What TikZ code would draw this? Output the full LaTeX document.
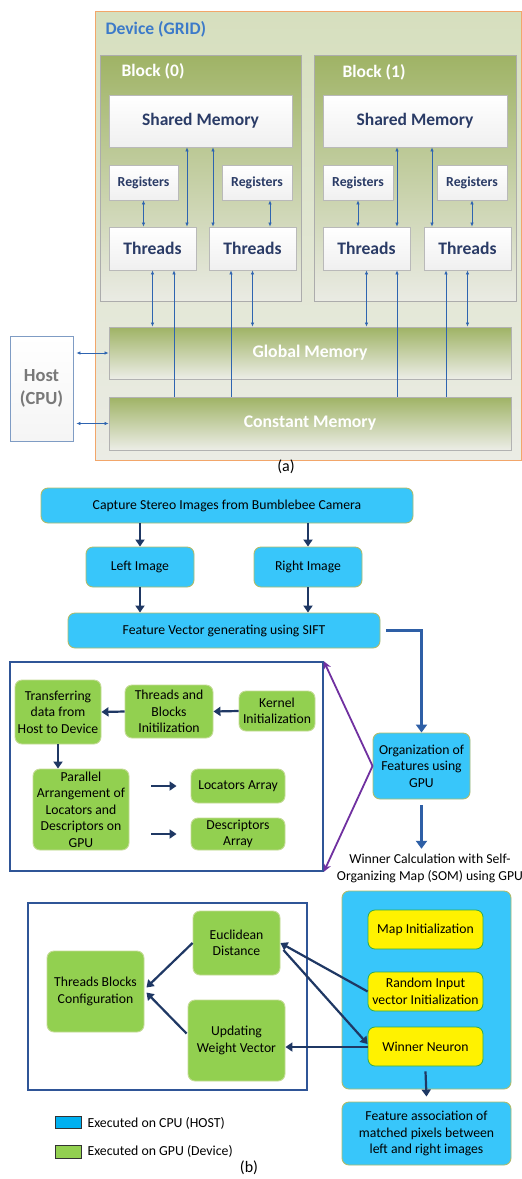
\documentclass[tikz,border=0pt]{standalone}
\usepackage{fontspec}
\setmainfont{Carlito}
\usetikzlibrary{arrows.meta,shadows}
\definecolor{devborder}{HTML}{F2A66A}
\definecolor{devtop}{HTML}{D6DFBE}
\definecolor{devbot}{HTML}{EBECE5}
\definecolor{olivetop}{HTML}{9FB365}
\definecolor{olivemid}{HTML}{CED8B4}
\definecolor{olivebot}{HTML}{EAEBE4}
\definecolor{devtitle}{HTML}{3C7AC9}
\definecolor{navytext}{HTML}{2A3B66}
\definecolor{thinblue}{HTML}{2E64B0}
\definecolor{hostborder}{HTML}{7F9CC4}
\definecolor{cyanF}{HTML}{38C6FA}
\definecolor{oliveB}{HTML}{AEBB6C}
\definecolor{greenF}{HTML}{92D050}
\definecolor{greenB}{HTML}{C4DB96}
\definecolor{yelB}{HTML}{2EAA50}
\definecolor{navyA}{HTML}{1F3864}
\definecolor{blueA}{HTML}{2E5FA6}
\definecolor{frameB}{HTML}{2F5597}
\definecolor{purpA}{HTML}{7030A0}
\definecolor{legcyan}{HTML}{00B0F0}
\tikzset{
  sz/.style n args={2}{minimum width=#1pt,minimum height=#2pt},
  devbox/.style={draw=devborder,line width=0.9pt,top color=devtop,bottom color=devbot,inner sep=0pt},
  blkbox/.style={draw=gray!65,line width=0.8pt,top color=olivetop,middle color=olivemid,bottom color=olivebot,inner sep=0pt},
  wbox/.style={draw=gray!55,line width=0.8pt,top color=white,bottom color=gray!12,drop shadow={shadow xshift=1.2pt,shadow yshift=-1.2pt,opacity=0.35},text=navytext,font=\bfseries,inner sep=0pt,align=center},
  membox/.style={draw=gray!60,line width=0.8pt,top color=olivetop,bottom color=olivebot!90!white,drop shadow={shadow xshift=1.2pt,shadow yshift=-1.2pt,opacity=0.35},text=white,font=\fontsize{17.7}{20}\selectfont\bfseries,inner sep=0pt},
  aarr/.style={draw=thinblue,line width=0.7pt,{Latex[length=4pt,width=3.5pt]}-{Latex[length=4pt,width=3.5pt]}},
  uarr/.style={draw=thinblue,line width=0.7pt,-{Latex[length=4pt,width=3.5pt]}},
  bfont/.style={font=\fontsize{13.7}{16.5}\selectfont},
  cbox/.style={rounded corners=7pt,fill=cyanF,draw=oliveB,line width=0.9pt,inner sep=0pt,align=center,bfont},
  gbox/.style={rounded corners=7pt,fill=greenF,draw=greenB,line width=0.9pt,inner sep=0pt,align=center,bfont},
  ybox/.style={rounded corners=7pt,fill=yellow,draw=yelB,line width=0.8pt,inner sep=0pt,align=center,bfont},
  frame/.style={draw=frameB,line width=1.6pt,inner sep=0pt},
  narr/.style={draw=navyA,line width=2.2pt,-{Triangle[length=7pt,width=9pt]}},
  barr/.style={draw=blueA,line width=2.6pt,-{Triangle[length=8pt,width=11pt]}},
  parr/.style={draw=purpA,line width=1.8pt,-{Stealth[length=8pt,width=8pt]}},
  smf/.style={font=\fontsize{17.5}{20}\selectfont\bfseries},
  rgf/.style={font=\fontsize{13.8}{16}\selectfont\bfseries},
  thf/.style={font=\fontsize{17.6}{20}\selectfont\bfseries},
  blf/.style={anchor=west,text=white,font=\fontsize{17.5}{20}\selectfont\bfseries},
}
\begin{document}
\begin{tikzpicture}[x=1pt,y=-1pt]
\useasboundingbox (0,0) rectangle (522,1179);
\fill[white] (0,0) rectangle (522,1179);

% ---------------- (a) ----------------
\node[devbox,sz={426}{449}] (dev) at (308,235.5) {};
\node[anchor=west,text=devtitle,font=\fontsize{17.6}{20}\selectfont\bfseries] (devt) at (102,29) {Device (GRID)};

\node[blkbox,sz={201}{246}] (b0) at (200.5,178) {};
\node[blkbox,sz={202}{246}] (b1) at (415,178) {};
\node[blf] (b0t) at (118,71) {Block (0)};
\node[blf] (b1t) at (339,72) {Block (1)};

\node[wbox,sz={183}{52},smf] (sm0) at (200.5,121) {Shared Memory};
\node[wbox,sz={184}{52},smf] (sm1) at (415,121) {Shared Memory};

\node[wbox,sz={69}{35},rgf] (r01) at (143.5,182.5) {Registers};
\node[wbox,sz={70}{35},rgf] (r02) at (257,182.5) {Registers};
\node[wbox,sz={70}{35},rgf] (r11) at (358,182.5) {Registers};
\node[wbox,sz={70}{35},rgf] (r12) at (472,182.5) {Registers};

\node[wbox,sz={87}{43},thf] (t01) at (152.5,248.5) {Threads};
\node[wbox,sz={87}{43},thf] (t02) at (252.5,248.5) {Threads};
\node[wbox,sz={87}{43},thf] (t11) at (366.5,248.5) {Threads};
\node[wbox,sz={87}{43},thf] (t12) at (467.5,248.5) {Threads};

\node[membox,sz={402}{52}] (gm) at (310,353) {Global Memory};
\node[membox,sz={402}{53}] (cm) at (310,423.5) {Constant Memory};

\node[draw=hostborder,line width=0.9pt,top color=white,bottom color=gray!8,sz={63}{105},inner sep=0pt,align=center,text=gray!95!black,font=\fontsize{18.5}{23.5}\selectfont\bfseries] (host) at (41.5,388.5) {Host\\(CPU)};

% registers <-> threads
\draw[aarr] (r01.south) -- (r01.south |- t01.north);
\draw[aarr] ([xshift=13pt]r02.south) -- ([xshift=13pt]r02.south |- t02.north);
\draw[aarr] (r11.south) -- (r11.south |- t11.north);
\draw[aarr] (r12.south) -- (r12.south |- t12.north);
% shared <-> threads
\draw[aarr] ([xshift=-13.5pt]sm0.south) -- ([xshift=34.5pt]t01.north);
\draw[aarr] ([xshift=12.5pt]sm0.south) -- ([xshift=-39.5pt]t02.north);
\draw[aarr] ([xshift=-18pt]sm1.south) -- ([xshift=30.5pt]t11.north);
\draw[aarr] ([xshift=17pt]sm1.south) -- ([xshift=-35.5pt]t12.north);
% threads <-> global
\draw[aarr] (t01.south) -- (t01.south |- gm.north);
\draw[aarr] (t02.south) -- (t02.south |- gm.north);
\draw[aarr] (t11.south) -- (t11.south |- gm.north);
\draw[aarr] (t12.south) -- (t12.south |- gm.north);
% constant -> threads
\draw[uarr] ([xshift=21.5pt]t01.south |- cm.north) -- ([xshift=21.5pt]t01.south);
\draw[uarr] ([xshift=-21.5pt]t02.south |- cm.north) -- ([xshift=-21.5pt]t02.south);
\draw[uarr] ([xshift=30.5pt]t11.south |- cm.north) -- ([xshift=30.5pt]t11.south);
\draw[uarr] ([xshift=-21.5pt]t12.south |- cm.north) -- ([xshift=-21.5pt]t12.south);
% host <-> memories
\draw[aarr] ([xshift=3pt]host.east |- gm.west) -- (gm.west);
\draw[aarr] ([xshift=3pt]host.east |- cm.west) -- (cm.west);

\node[font=\fontsize{16}{18}\selectfont] (la) at (286,467) {(a)};

% ---------------- (b) ----------------
\node[cbox,sz={372}{35}] (cap) at (227,505.5) {Capture Stereo Images from Bumblebee Camera};
\node[cbox,sz={108}{40}] (left) at (140,567) {Left Image};
\node[cbox,sz={108}{40}] (right) at (308,567) {Right Image};
\node[cbox,sz={312}{35}] (feat) at (224,630.5) {Feature Vector generating using SIFT};

\draw[narr] (cap.south -| left.north) -- (left.north);
\draw[narr] (cap.south -| right.north) -- (right.north);
\draw[narr] (left.south) -- (left.south |- feat.north);
\draw[narr] (right.south) -- (right.south |- feat.north);

\node[frame,sz={313}{209}] (box1) at (166.5,766.5) {};
\node[gbox,sz={86}{64}] (trans) at (58,712) {Transferring\\data from\\Host to Device};
\node[gbox,sz={88}{53}] (tab) at (169,711.5) {Threads and\\Blocks\\Initilization};
\node[gbox,sz={76}{40}] (kern) at (277,711) {Kernel\\Initialization};
\node[gbox,sz={96}{81}] (par) at (81,809.5) {Parallel\\Arrangement of\\Locators and\\Descriptors on\\GPU};
\node[gbox,sz={94}{34}] (loc) at (238,786) {Locators Array};
\node[gbox,sz={94}{32}] (desc) at (238,834) {Descriptors\\Array};

\draw[narr] (kern.west) -- (tab.east);
\draw[narr] (tab.west) -- (trans.east);
\draw[narr] (trans.south) -- (trans.south |- par.north);
\draw[narr] ([xshift=22pt]par.east |- loc.west) -- ([xshift=-14pt]loc.west);
\draw[narr] ([xshift=22pt]par.east |- desc.west) -- ([xshift=-14pt]desc.west);

\node[cbox,sz={97}{66}] (org) at (421.5,766) {Organization of\\Features using\\GPU};
\draw[barr] ([xshift=6pt]feat.east) -| (org.north);
\draw[parr] (org.west) -- (box1.north east);
\draw[parr] (org.west) -- (box1.south east);

\node[bfont,align=center] (soml) at (430,868.5) {Winner Calculation with Self-\\Organizing Map (SOM) using GPU};
\draw[barr] ([yshift=-6pt]org.south) -- ([yshift=2pt]soml.north -| org.south);

\node[cbox,sz={169}{198}] (som) at (426.5,990) {};
\node[ybox,sz={115}{39}] (map) at (425.5,929.5) {Map Initialization};
\node[ybox,sz={115}{39}] (rand) at (425.5,991.5) {Random Input\\vector Initialization};
\node[ybox,sz={115}{39}] (win) at (425.5,1046.5) {Winner Neuron};
\node[cbox,sz={169}{63}] (assoc) at (426.5,1133.5) {Feature association of\\matched pixels between\\left and right images};
\draw[narr] ([yshift=-5pt]win.south) -- ([yshift=5pt]assoc.north);

\node[frame,sz={279}{187}] (box2) at (167.5,996.5) {};
\node[gbox,sz={87}{64}] (euc) at (236.5,943) {Euclidean\\Distance};
\node[gbox,sz={97}{81}] (tbc) at (95.5,991.5) {Threads Blocks\\Configuration};
\node[gbox,sz={97}{81}] (upd) at (236.5,1040.5) {Updating\\Weight Vector};

\draw[narr] (euc.west) -- ([xshift=2pt,yshift=4pt]tbc.east);
\draw[narr] ([xshift=-1pt,yshift=7pt]upd.west) -- ([xshift=2pt,yshift=-1pt]tbc.east);
\draw[narr] (rand.west) -- (euc.east);
\draw[narr] ([xshift=3pt,yshift=-7pt]euc.east) -- ([yshift=2.5pt]win.west);
\draw[narr] ([yshift=-0.5pt]win.west) -- ([yshift=-0.5pt]win.west -| upd.east);

% legend
\node[draw=black!80,fill=legcyan,sz={26}{12},inner sep=0pt] (lc) at (68,1122) {};
\node[draw=black!80,fill=greenF,sz={26}{13},inner sep=0pt] (lg) at (68,1151.5) {};
\node[anchor=west,font=\fontsize{13.8}{16}\selectfont] (lct) at (84,1123) {Executed on CPU (HOST)};
\node[anchor=west,font=\fontsize{13.8}{16}\selectfont] (lgt) at (84,1151.5) {Executed on GPU (Device)};
\node[font=\fontsize{16}{18}\selectfont] (lb) at (249,1168) {(b)};
\end{tikzpicture}
\end{document}
